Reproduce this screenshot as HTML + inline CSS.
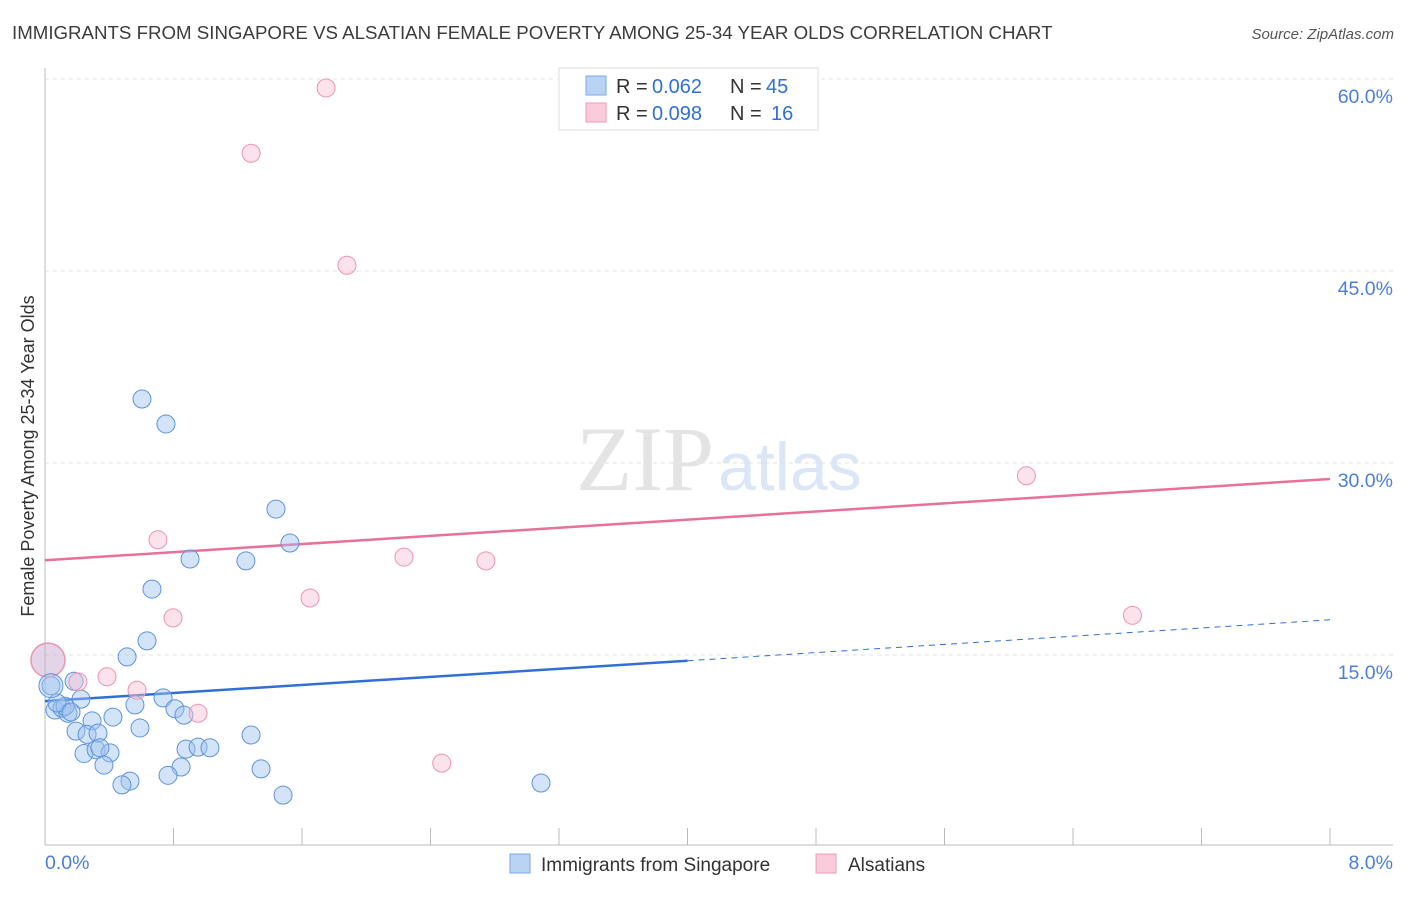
<!DOCTYPE html>
<html><head><meta charset="utf-8"><style>
body{margin:0;background:#fff;font-family:"Liberation Sans",sans-serif}
</style></head><body>
<svg width="1406" height="892" xmlns="http://www.w3.org/2000/svg" font-family="Liberation Sans, sans-serif">
<text x="12" y="39" font-size="18.7" fill="#3c3c3c">IMMIGRANTS FROM SINGAPORE VS ALSATIAN FEMALE POVERTY AMONG 25-34 YEAR OLDS CORRELATION CHART</text>
<text x="1394" y="39" font-size="15" fill="#555" font-style="italic" text-anchor="end">Source: ZipAtlas.com</text>
<text x="714" y="490" font-size="92" fill="#e4e4e4" text-anchor="end" font-family="Liberation Serif, serif">ZIP</text>
<text x="718" y="490" font-size="68" fill="#dbe6f6">atlas</text>
<g id="grid"></g>
<g id="axes"></g>
<g id="lines"></g>
<g id="pts"></g>
<text transform="translate(34,456) rotate(-90)" font-size="18" fill="#333" text-anchor="middle">Female Poverty Among 25-34 Year Olds</text>
<g>
<rect x="559" y="68" width="259" height="62" fill="#fff" stroke="#ddd"/>
<rect x="586" y="76" width="20" height="19" fill="#b9d3f5" stroke="#7aaae8"/>
<rect x="586" y="103" width="20" height="19" fill="#fbcadb" stroke="#ef9ab8"/>
<text x="616" y="93" font-size="20" fill="#333">R =</text>
<text x="652" y="93" font-size="20" fill="#2f6fd6">0.062</text>
<text x="730" y="93" font-size="20" fill="#333">N =</text>
<text x="766" y="93" font-size="20" fill="#2f6fd6">45</text>
<text x="616" y="120" font-size="20" fill="#333">R =</text>
<text x="652" y="120" font-size="20" fill="#2f6fd6">0.098</text>
<text x="730" y="120" font-size="20" fill="#333">N =</text>
<text x="771" y="120" font-size="20" fill="#2f6fd6">16</text>
</g>
<g>
<rect x="510" y="854" width="20" height="19" fill="#b9d3f5" stroke="#7aaae8"/>
<text x="541" y="871" font-size="19" fill="#333">Immigrants from Singapore</text>
<rect x="816" y="854" width="20" height="19" fill="#fbcadb" stroke="#ef9ab8"/>
<text x="848" y="871" font-size="19" fill="#333">Alsatians</text>
</g>
</svg>
<script>
const blueX=[0.604,0.753,1.438,1.525,0.903,1.251,0.666,0.635,0.511,0.037,0.181,0.224,0.062,0.106,0.143,0.125,0.423,0.293,0.560,0.735,0.809,0.865,0.193,0.262,0.330,0.591,1.283,0.243,0.318,0.405,0.367,0.878,0.953,1.027,0.847,0.766,1.345,0.529,0.479,1.482,3.088,0.075,0.342,0.162];
const blueY=[35.0,33.05,26.4,23.75,22.5,22.35,20.15,16.1,14.85,12.6,12.95,11.55,10.7,10.85,10.45,11.0,10.15,9.85,11.1,11.65,10.8,10.3,9.05,8.8,8.9,9.3,8.75,7.3,7.6,7.35,6.4,7.65,7.8,7.75,6.25,5.6,6.1,5.15,4.85,4.05,5.0,11.25,7.75,10.55];
const pinkX=[1.75,1.283,1.88,6.11,0.703,2.235,2.745,1.65,0.797,6.77,0.205,0.386,0.573,0.953,2.47];
const pinkY=[59.3,54.2,45.45,29.0,24.0,22.65,22.35,19.45,17.9,18.1,12.9,13.3,12.25,10.45,6.55];
const bigX=[0.0],bigY=[14.6];
const yTicks=[15,30,45,60];
const yTickLabels=["15.0%","30.0%","45.0%","60.0%"];
const xTicks=[0,0.8,1.6,2.4,3.2,4.0,4.8,5.6,6.4,7.2,8.0];
const blueFit=[11.4,14.55,17.75]; // at x=0, 4, 8
const pinkFit=[22.4,28.75]; // at x=0, 8
const X=v=>45+v/8*1285, Y=v=>847-v*12.8;
const NS="http://www.w3.org/2000/svg";
function mk(t,a,p){const e=document.createElementNS(NS,t);for(const k in a)e.setAttribute(k,a[k]);p.appendChild(e);return e;}
const g=document.getElementById('grid'),ax=document.getElementById('axes'),ln=document.getElementById('lines'),pt=document.getElementById('pts');
yTicks.forEach((v,i)=>{
 const l=mk('line',{x1:45,x2:1393,y1:Y(v),y2:Y(v),stroke:'#e2e2e2','stroke-dasharray':'4,4'},g);
 
 
 const t=mk('text',{x:1393,y:Y(v)+24,'font-size':19.5,fill:'#4a7fd6','text-anchor':'end'},ax);
 t.textContent=yTickLabels[i];
 
 
});
const xa=mk('line',{x1:45,x2:1393,y1:845,y2:845,stroke:'#bbb'},ax);


const ya=mk('line',{x1:45,x2:45,y1:68,y2:845,stroke:'#bbb'},ax);


xTicks.forEach(v=>{const l=mk('line',{x1:X(v),x2:X(v),y1:828,y2:845,stroke:'#bbb'},ax);
 
 });
const t0=mk('text',{x:45,y:869,'font-size':19.5,fill:'#4a7fd6'},ax);t0.textContent="0.0%";


const t1=mk('text',{x:1393,y:869,'font-size':19.5,fill:'#4a7fd6','text-anchor':'end'},ax);t1.textContent="8.0%";


const pl=mk('line',{x1:X(0),y1:Y(pinkFit[0]),x2:X(8),y2:Y(pinkFit[1]),stroke:'#e8709a','stroke-width':2.5},ln);


const bl=mk('line',{x1:X(0),y1:Y(blueFit[0]),x2:X(4),y2:Y(blueFit[1]),stroke:'#2f70d6','stroke-width':2.5},ln);


const bd=mk('line',{x1:X(4),y1:Y(blueFit[1]),x2:X(8),y2:Y(blueFit[2]),stroke:'#2f70d6','stroke-width':1,'stroke-dasharray':'6,5'},ln);


blueX.forEach((v,i)=>{const c=mk('circle',{cx:X(v),cy:Y(blueY[i]),r:9,fill:'rgba(160,196,240,0.45)',stroke:'#5c93dc','stroke-width':1},pt);
 
 });
pinkX.forEach((v,i)=>{const c=mk('circle',{cx:X(v),cy:Y(pinkY[i]),r:9,fill:'rgba(248,190,210,0.45)',stroke:'#ec93b2','stroke-width':1},pt);
 
 });
bigX.forEach((v,i)=>{const c=mk('circle',{cx:X(v)+3,cy:Y(bigY[i]),r:17,fill:'rgba(200,170,210,0.5)',stroke:'#ec93b2','stroke-width':1.5},pt);
 
 });
const bb=mk('circle',{cx:X(0.037),cy:Y(12.6),r:12,fill:'rgba(160,196,240,0.45)',stroke:'#5c93dc','stroke-width':1},pt);


</script>
</body></html>
